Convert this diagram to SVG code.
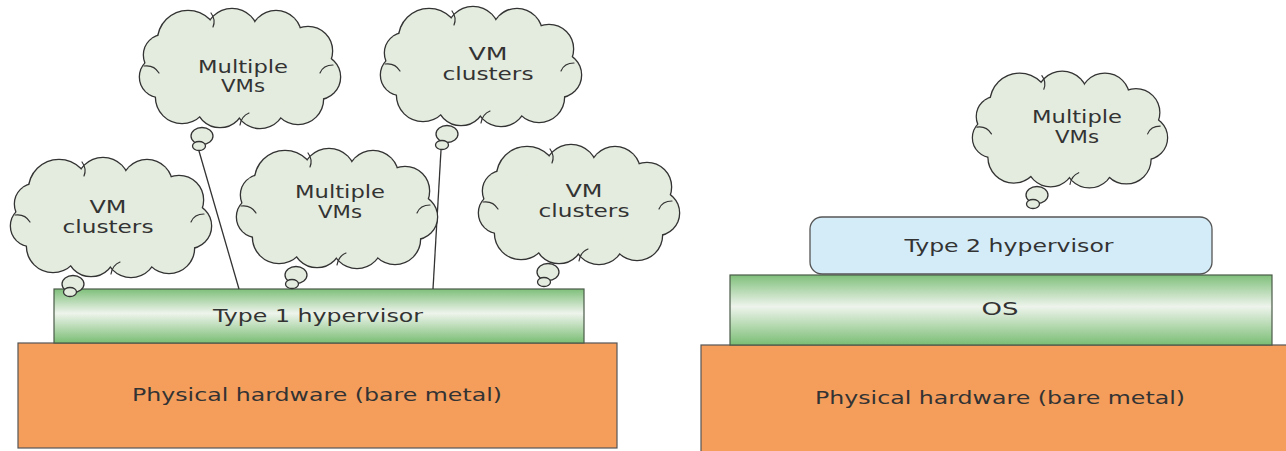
<svg xmlns="http://www.w3.org/2000/svg" width="1286" height="451" viewBox="0 0 1286 451">
  <style>
    .lbl { font-family: "DejaVu Sans", "Liberation Sans", sans-serif; font-size: 18px; fill: #333333; text-anchor: middle; }
    .edge { fill: #e4ecdf; stroke: #333333; stroke-width: 2.6; }
    .body { fill: #e4ecdf; stroke: none; }
    .curl { fill: none; stroke: #333333; stroke-width: 1.2; stroke-linecap: round; }
    .bub { fill: #e4ecdf; stroke: #333333; stroke-width: 1.3; }
    .hw { fill: #f59e5c; stroke: #555555; stroke-width: 1.2; }
    .layer { fill: url(#greenBand); stroke: #4a5a48; stroke-width: 1.2; }
    .hyp2 { fill: #d4ecf8; stroke: #555555; stroke-width: 1.3; }
    .wire { fill: none; stroke: #333333; stroke-width: 1.3; }
  </style>
  <defs>
    <linearGradient id="greenBand" x1="0" y1="0" x2="0" y2="1">
      <stop offset="0" stop-color="#7fbf7a"/>
      <stop offset="0.45" stop-color="#eef4ec"/>
      <stop offset="1" stop-color="#7abd74"/>
    </linearGradient>
    <!-- thought cloud: stroked circles underneath, unstroked fill on top gives the merged outline -->
    <g id="cloud">
      <g class="edge">
        <circle cx="-52" cy="-28" r="30"/>
        <circle cx="-8" cy="-34" r="26"/>
        <circle cx="36" cy="-33" r="25"/>
        <circle cx="68" cy="-18" r="24"/>
        <circle cx="78" cy="8" r="22"/>
        <circle cx="58" cy="30" r="25"/>
        <circle cx="20" cy="34" r="25"/>
        <circle cx="-20" cy="34" r="24"/>
        <circle cx="-58" cy="28" r="26"/>
        <circle cx="-80" cy="8" r="20"/>
        <circle cx="-76" cy="-14" r="20"/>
      </g>
      <g class="body">
        <circle cx="-52" cy="-28" r="30"/>
        <circle cx="-8" cy="-34" r="26"/>
        <circle cx="36" cy="-33" r="25"/>
        <circle cx="68" cy="-18" r="24"/>
        <circle cx="78" cy="8" r="22"/>
        <circle cx="58" cy="30" r="25"/>
        <circle cx="20" cy="34" r="25"/>
        <circle cx="-20" cy="34" r="24"/>
        <circle cx="-58" cy="28" r="26"/>
        <circle cx="-80" cy="8" r="20"/>
        <circle cx="-76" cy="-14" r="20"/>
        <ellipse cx="0" cy="0" rx="78" ry="40"/>
      </g>
      <!-- short inner strokes continuing a few of the scallops -->
      <g class="curl">
        <path d="M-96,-3 c7,-1 12,2 15,7"/>
        <path d="M-29,-56 c3,4 4,9 2,14"/>
        <path d="M93,-4 c-6,0 -11,3 -13,8"/>
        <path d="M0,56 c1,-6 4,-10 9,-12"/>
      </g>
    </g>
  </defs>

  <!-- hardware and hypervisor stack, left -->
  <g id="hw-left">
    <rect class="hw" x="18" y="343" width="599" height="105"/>
    <text class="lbl" x="317" y="401" textLength="370" lengthAdjust="spacingAndGlyphs">Physical hardware (bare metal)</text>
  </g>
  <g id="type1">
    <rect class="layer" x="54" y="289" width="530" height="54"/>
    <text class="lbl" x="318" y="322" textLength="210" lengthAdjust="spacingAndGlyphs">Type 1 hypervisor</text>
  </g>

  <!-- hardware, host OS and hypervisor stack, right -->
  <g id="hw-right">
    <rect class="hw" x="701" y="345" width="590" height="110"/>
    <text class="lbl" x="1000" y="404" textLength="370" lengthAdjust="spacingAndGlyphs">Physical hardware (bare metal)</text>
  </g>
  <g id="os">
    <rect class="layer" x="730" y="275" width="542" height="70"/>
    <text class="lbl" x="1000" y="315" textLength="37" lengthAdjust="spacingAndGlyphs">OS</text>
  </g>
  <g id="type2">
    <rect class="hyp2" x="810" y="217" width="402" height="57" rx="12"/>
    <text class="lbl" x="1009" y="252" textLength="209" lengthAdjust="spacingAndGlyphs">Type 2 hypervisor</text>
  </g>

  <!-- leader lines from raised clouds down to the hypervisor -->
  <g id="connectors">
    <line class="wire" x1="199" y1="151" x2="239" y2="289"/>
    <line class="wire" x1="441" y1="150" x2="433" y2="289"/>
  </g>

  <g id="cloud-a">
    <use href="#cloud" transform="translate(111,218)"/>
    <ellipse class="bub" cx="73" cy="284" rx="11" ry="8.5"/>
    <ellipse class="bub" cx="70" cy="292" rx="6.5" ry="4.5"/>
    <text class="lbl" x="108" y="213" textLength="37" lengthAdjust="spacingAndGlyphs">VM</text>
    <text class="lbl" x="108" y="233" textLength="91" lengthAdjust="spacingAndGlyphs">clusters</text>
  </g>

  <g id="cloud-b">
    <use href="#cloud" transform="translate(240,69)"/>
    <ellipse class="bub" cx="202" cy="136" rx="11" ry="8.5"/>
    <ellipse class="bub" cx="199" cy="146" rx="6.5" ry="4.5"/>
    <text class="lbl" x="243" y="73" textLength="90" lengthAdjust="spacingAndGlyphs">Multiple</text>
    <text class="lbl" x="243" y="92" textLength="44" lengthAdjust="spacingAndGlyphs">VMs</text>
  </g>

  <g id="cloud-c">
    <use href="#cloud" transform="translate(481,67)"/>
    <ellipse class="bub" cx="447" cy="134" rx="11" ry="8.5"/>
    <ellipse class="bub" cx="442" cy="145" rx="6.5" ry="4.5"/>
    <text class="lbl" x="488" y="60" textLength="39" lengthAdjust="spacingAndGlyphs">VM</text>
    <text class="lbl" x="488" y="80" textLength="91" lengthAdjust="spacingAndGlyphs">clusters</text>
  </g>

  <g id="cloud-d">
    <use href="#cloud" transform="translate(337,209)"/>
    <ellipse class="bub" cx="296" cy="275" rx="11" ry="8.5"/>
    <ellipse class="bub" cx="292" cy="284" rx="6.5" ry="4.5"/>
    <text class="lbl" x="340" y="198" textLength="90" lengthAdjust="spacingAndGlyphs">Multiple</text>
    <text class="lbl" x="340" y="218" textLength="44" lengthAdjust="spacingAndGlyphs">VMs</text>
  </g>

  <g id="cloud-e">
    <use href="#cloud" transform="translate(579,205)"/>
    <ellipse class="bub" cx="548" cy="272" rx="11" ry="8.5"/>
    <ellipse class="bub" cx="544" cy="282" rx="6.5" ry="4.5"/>
    <text class="lbl" x="584" y="197" textLength="37" lengthAdjust="spacingAndGlyphs">VM</text>
    <text class="lbl" x="584" y="217" textLength="91" lengthAdjust="spacingAndGlyphs">clusters</text>
  </g>

  <g id="cloud-f">
    <use href="#cloud" transform="translate(1070,130) scale(0.97)"/>
    <ellipse class="bub" cx="1037" cy="195" rx="11" ry="8.5"/>
    <ellipse class="bub" cx="1033" cy="204" rx="6.5" ry="4.5"/>
    <text class="lbl" x="1077" y="123" textLength="90" lengthAdjust="spacingAndGlyphs">Multiple</text>
    <text class="lbl" x="1077" y="143" textLength="44" lengthAdjust="spacingAndGlyphs">VMs</text>
  </g>
</svg>
